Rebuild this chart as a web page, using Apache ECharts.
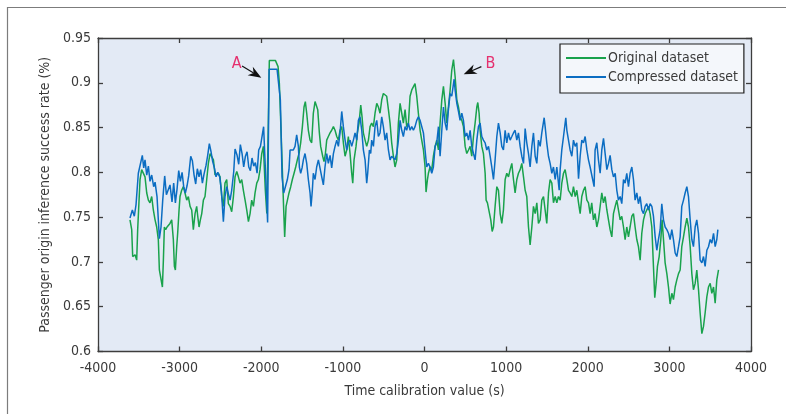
<!DOCTYPE html>
<html>
<head>
<meta charset="utf-8">
<script src="https://cdn.jsdelivr.net/npm/echarts@6/dist/echarts.min.js"></script>
<style>
  html, body { margin: 0; padding: 0; background: #ffffff; }
  #chart { width: 786px; height: 414px; }
</style>
</head>
<body>
<div id="chart"></div>
<script>
// Inference success rate against time calibration value, two datasets.
const xTicks = { min: -4000, max: 4000, step: 1000 };
const yTicks = { min: 0.6, max: 0.95, step: 0.05 };

const originalTime = [
  -3608, -3587, -3575, -3546, -3526, -3514, -3497, -3485, -3465, -3444,
  -3424, -3403, -3383, -3363, -3342, -3322, -3301, -3281, -3261, -3248,
  -3228, -3211, -3199, -3187, -3171, -3154, -3138, -3118, -3097, -3077,
  -3064, -3052, -3036, -3024, -3007, -2995, -2975, -2954, -2934, -2913,
  -2893, -2872, -2852, -2832, -2811, -2791, -2778, -2762, -2746, -2729,
  -2709, -2689, -2668, -2648, -2627, -2607, -2586, -2566, -2546, -2525,
  -2505, -2484, -2464, -2444, -2423, -2403, -2382, -2362, -2341, -2321,
  -2300, -2280, -2260, -2239, -2219, -2198, -2178, -2157, -2137, -2117,
  -2096, -2076, -2055, -2035, -2015, -1994, -1974, -1950, -1932, -1901,
  -1827, -1794, -1778, -1755, -1725, -1713, -1696, -1660, -1639, -1619,
  -1598, -1578, -1558, -1537, -1517, -1496, -1476, -1460, -1443, -1423,
  -1402, -1382, -1362, -1341, -1321, -1308, -1288, -1272, -1247, -1231,
  -1214, -1198, -1178, -1157, -1137, -1116, -1096, -1075, -1055, -1035,
  -1014, -994, -973, -953, -933, -912, -892, -879, -863, -839,
  -822, -802, -781, -765, -749, -728, -708, -687, -667, -647,
  -626, -606, -585, -565, -545, -524, -504, -483, -463, -442,
  -422, -402, -381, -361, -340, -320, -299, -279, -259, -238,
  -218, -197, -177, -156, -136, -116, -95, -75, -54, -34,
  -13, 7, 19, 36, 48, 68, 89, 109, 130, 150,
  171, 191, 212, 232, 253, 273, 293, 314, 334, 355,
  375, 396, 416, 436, 457, 477, 498, 518, 539, 559,
  579, 600, 620, 641, 653, 669, 681, 702, 722, 743,
  755, 771, 792, 812, 829, 845, 865, 886, 906, 927,
  947, 967, 988, 1008, 1029, 1049, 1070, 1090, 1110, 1131,
  1151, 1172, 1192, 1213, 1233, 1253, 1274, 1294, 1315, 1335,
  1356, 1376, 1396, 1417, 1437, 1458, 1478, 1498, 1519, 1539,
  1560, 1580, 1601, 1621, 1641, 1662, 1682, 1703, 1723, 1744,
  1764, 1784, 1805, 1825, 1846, 1866, 1887, 1907, 1927, 1948,
  1968, 1989, 2009, 2029, 2049, 2070, 2090, 2111, 2131, 2152,
  2172, 2193, 2213, 2234, 2254, 2274, 2295, 2315, 2336, 2356,
  2376, 2397, 2417, 2438, 2458, 2478, 2499, 2519, 2540, 2560,
  2580, 2601, 2621, 2642, 2662, 2683, 2703, 2723, 2744, 2764,
  2785, 2805, 2821, 2838, 2854, 2875, 2895, 2911, 2928, 2948,
  2969, 2989, 3009, 3030, 3050, 3071, 3091, 3112, 3132, 3152,
  3173, 3193, 3214, 3234, 3255, 3275, 3295, 3316, 3336, 3357,
  3377, 3398, 3418, 3438, 3459, 3479, 3500, 3520, 3541, 3561,
  3581, 3602
];
const originalRate = [
  0.747, 0.736, 0.706, 0.708, 0.702, 0.736, 0.769, 0.792, 0.803, 0.801,
  0.795, 0.777, 0.769, 0.766, 0.773, 0.758, 0.747, 0.739, 0.725, 0.691,
  0.691, 0.672, 0.702, 0.739, 0.736, 0.739, 0.739, 0.743, 0.747, 0.725,
  0.695, 0.691, 0.717, 0.732, 0.758, 0.773, 0.780, 0.784, 0.777, 0.769,
  0.773, 0.762, 0.758, 0.736, 0.754, 0.762, 0.751, 0.739, 0.747, 0.754,
  0.769, 0.773, 0.792, 0.810, 0.821, 0.823, 0.814, 0.797, 0.795, 0.799,
  0.795, 0.773, 0.762, 0.788, 0.792, 0.765, 0.762, 0.756, 0.773, 0.795,
  0.801, 0.795, 0.788, 0.792, 0.780, 0.769, 0.758, 0.745, 0.754, 0.769,
  0.762, 0.777, 0.788, 0.792, 0.803, 0.821, 0.829, 0.780, 0.754, 0.925,
  0.925, 0.918, 0.899, 0.840, 0.758, 0.728, 0.762, 0.777, 0.784, 0.792,
  0.799, 0.806, 0.814, 0.821, 0.833, 0.851, 0.873, 0.879, 0.866, 0.847,
  0.836, 0.833, 0.866, 0.879, 0.877, 0.870, 0.844, 0.829, 0.818, 0.812,
  0.821, 0.836, 0.840, 0.844, 0.847, 0.851, 0.847, 0.840, 0.836, 0.847,
  0.851, 0.833, 0.818, 0.825, 0.840, 0.821, 0.799, 0.788, 0.814, 0.829,
  0.844, 0.855, 0.875, 0.862, 0.844, 0.836, 0.829, 0.836, 0.851, 0.855,
  0.851, 0.866, 0.877, 0.873, 0.866, 0.881, 0.888, 0.890, 0.885, 0.870,
  0.855, 0.833, 0.818, 0.806, 0.814, 0.855, 0.877, 0.866, 0.855, 0.870,
  0.851, 0.855, 0.885, 0.892, 0.894, 0.899, 0.885, 0.866, 0.847, 0.836,
  0.825, 0.806, 0.778, 0.792, 0.799, 0.806, 0.803, 0.818, 0.829, 0.836,
  0.825, 0.855, 0.881, 0.896, 0.877, 0.855, 0.873, 0.892, 0.914, 0.926,
  0.907, 0.881, 0.873, 0.862, 0.858, 0.851, 0.829, 0.821, 0.825, 0.829,
  0.818, 0.840, 0.855, 0.873, 0.878, 0.866, 0.847, 0.829, 0.821, 0.799,
  0.769, 0.766, 0.766, 0.747, 0.734, 0.739, 0.762, 0.784, 0.780, 0.754,
  0.743, 0.758, 0.792, 0.799, 0.795, 0.803, 0.810, 0.792, 0.777, 0.792,
  0.799, 0.803, 0.810, 0.795, 0.780, 0.773, 0.739, 0.719, 0.739, 0.762,
  0.754, 0.766, 0.743, 0.747, 0.769, 0.773, 0.758, 0.743, 0.777, 0.792,
  0.788, 0.766, 0.773, 0.766, 0.773, 0.769, 0.788, 0.799, 0.803, 0.792,
  0.780, 0.777, 0.773, 0.784, 0.773, 0.780, 0.766, 0.754, 0.773, 0.780,
  0.784, 0.769, 0.766, 0.754, 0.766, 0.747, 0.754, 0.739, 0.747, 0.762,
  0.777, 0.766, 0.773, 0.758, 0.747, 0.736, 0.728, 0.754, 0.762, 0.769,
  0.758, 0.747, 0.751, 0.739, 0.725, 0.739, 0.728, 0.739, 0.751, 0.754,
  0.739, 0.725, 0.717, 0.702, 0.732, 0.747, 0.754, 0.758, 0.762, 0.754,
  0.739, 0.695, 0.660, 0.676, 0.695, 0.706, 0.725, 0.747, 0.725, 0.699,
  0.687, 0.672, 0.653, 0.665, 0.658, 0.672, 0.680, 0.687, 0.691, 0.717,
  0.728, 0.739, 0.749, 0.739, 0.717, 0.687, 0.669, 0.676, 0.691, 0.669,
  0.643, 0.620, 0.628, 0.643, 0.661, 0.672, 0.676, 0.665, 0.672, 0.654,
  0.680, 0.691
];

const compressedTime = [
  -3608, -3579, -3555, -3534, -3506, -3485, -3457, -3440, -3424, -3403,
  -3383, -3363, -3342, -3318, -3301, -3277, -3248, -3228, -3207, -3183,
  -3162, -3138, -3118, -3093, -3073, -3052, -3032, -3011, -2991, -2970,
  -2950, -2930, -2909, -2889, -2864, -2844, -2823, -2803, -2783, -2762,
  -2742, -2721, -2701, -2676, -2656, -2636, -2615, -2595, -2574, -2554,
  -2533, -2509, -2488, -2464, -2444, -2423, -2403, -2382, -2362, -2337,
  -2321, -2296, -2276, -2256, -2235, -2215, -2194, -2174, -2153, -2133,
  -2113, -2092, -2072, -2051, -2031, -2010, -1994, -1971, -1922, -1904,
  -1806, -1766, -1745, -1725, -1705, -1680, -1660, -1647, -1627, -1607,
  -1586, -1566, -1545, -1533, -1517, -1500, -1484, -1464, -1443, -1423,
  -1402, -1390, -1374, -1362, -1341, -1321, -1300, -1280, -1259, -1239,
  -1219, -1198, -1178, -1157, -1137, -1116, -1096, -1075, -1055, -1035,
  -1014, -994, -973, -953, -933, -912, -892, -871, -851, -830,
  -810, -790, -769, -749, -728, -708, -696, -675, -659, -647,
  -626, -606, -585, -565, -545, -524, -504, -483, -463, -442,
  -422, -402, -381, -361, -340, -320, -299, -279, -259, -238,
  -218, -197, -177, -156, -136, -116, -95, -75, -54, -34,
  -13, 7, 27, 48, 68, 89, 109, 130, 150, 171,
  191, 212, 232, 253, 273, 293, 314, 334, 363, 375,
  396, 416, 436, 457, 477, 498, 518, 539, 559, 579,
  600, 620, 641, 661, 681, 702, 722, 743, 763, 784,
  804, 824, 845, 865, 886, 906, 927, 947, 967, 988,
  1008, 1029, 1049, 1070, 1090, 1110, 1131, 1151, 1172, 1192,
  1213, 1233, 1253, 1274, 1294, 1315, 1335, 1356, 1376, 1396,
  1417, 1437, 1466, 1478, 1498, 1519, 1539, 1560, 1580, 1601,
  1621, 1650, 1662, 1682, 1703, 1731, 1744, 1764, 1784, 1805,
  1825, 1846, 1866, 1887, 1907, 1927, 1948, 1968, 1989, 2009,
  2029, 2049, 2078, 2090, 2111, 2131, 2152, 2172, 2193, 2213,
  2234, 2254, 2274, 2295, 2315, 2336, 2356, 2376, 2397, 2417,
  2438, 2458, 2478, 2499, 2519, 2540, 2560, 2580, 2601, 2621,
  2642, 2662, 2683, 2703, 2723, 2744, 2764, 2785, 2805, 2826,
  2846, 2866, 2887, 2907, 2928, 2948, 2969, 2989, 3009, 3030,
  3050, 3071, 3091, 3112, 3132, 3152, 3173, 3193, 3214, 3234,
  3255, 3275, 3295, 3316, 3336, 3357, 3377, 3398, 3418, 3438,
  3459, 3479, 3500, 3520, 3541, 3561, 3581, 3594
];
const compressedRate = [
  0.749, 0.758, 0.751, 0.764, 0.799, 0.801, 0.819, 0.805, 0.814, 0.797,
  0.807, 0.790, 0.797, 0.784, 0.789, 0.773, 0.726, 0.739, 0.769, 0.796,
  0.775, 0.773, 0.786, 0.767, 0.788, 0.766, 0.781, 0.802, 0.790, 0.800,
  0.784, 0.777, 0.785, 0.796, 0.818, 0.813, 0.797, 0.787, 0.804, 0.795,
  0.803, 0.788, 0.798, 0.808, 0.819, 0.832, 0.823, 0.812, 0.805, 0.795,
  0.800, 0.795, 0.779, 0.745, 0.773, 0.784, 0.776, 0.769, 0.780, 0.801,
  0.826, 0.819, 0.809, 0.831, 0.821, 0.806, 0.818, 0.823, 0.806, 0.802,
  0.816, 0.807, 0.811, 0.799, 0.825, 0.829, 0.838, 0.851, 0.744, 0.915,
  0.915, 0.881, 0.795, 0.777, 0.775, 0.792, 0.803, 0.825, 0.827, 0.825,
  0.829, 0.842, 0.829, 0.806, 0.799, 0.805, 0.814, 0.821, 0.810, 0.792,
  0.777, 0.762, 0.780, 0.799, 0.792, 0.806, 0.814, 0.812, 0.795, 0.786,
  0.806, 0.821, 0.810, 0.819, 0.805, 0.821, 0.829, 0.836, 0.829, 0.844,
  0.868, 0.851, 0.836, 0.825, 0.833, 0.836, 0.829, 0.836, 0.844, 0.836,
  0.858, 0.862, 0.847, 0.825, 0.814, 0.788, 0.799, 0.825, 0.821, 0.836,
  0.829, 0.851, 0.858, 0.840, 0.844, 0.862, 0.851, 0.836, 0.844, 0.825,
  0.814, 0.818, 0.819, 0.814, 0.821, 0.836, 0.858, 0.847, 0.840, 0.851,
  0.847, 0.855, 0.847, 0.851, 0.847, 0.851, 0.858, 0.862, 0.858, 0.860,
  0.844, 0.825, 0.806, 0.810, 0.806, 0.799, 0.806, 0.829, 0.833, 0.851,
  0.818, 0.847, 0.873, 0.855, 0.847, 0.870, 0.888, 0.885, 0.904, 0.892,
  0.877, 0.868, 0.858, 0.866, 0.858, 0.840, 0.844, 0.836, 0.847, 0.829,
  0.821, 0.814, 0.836, 0.851, 0.855, 0.840, 0.836, 0.833, 0.825, 0.829,
  0.818, 0.806, 0.792, 0.814, 0.840, 0.855, 0.844, 0.829, 0.825, 0.847,
  0.833, 0.844, 0.836, 0.840, 0.844, 0.847, 0.836, 0.844, 0.829, 0.818,
  0.810, 0.849, 0.833, 0.821, 0.806, 0.829, 0.844, 0.818, 0.810, 0.836,
  0.829, 0.844, 0.861, 0.851, 0.833, 0.818, 0.810, 0.799, 0.806, 0.792,
  0.806, 0.780, 0.803, 0.825, 0.840, 0.861, 0.847, 0.836, 0.825, 0.818,
  0.836, 0.829, 0.833, 0.793, 0.818, 0.836, 0.833, 0.840, 0.825, 0.814,
  0.806, 0.806, 0.784, 0.825, 0.833, 0.814, 0.799, 0.825, 0.838, 0.821,
  0.803, 0.810, 0.819, 0.803, 0.795, 0.799, 0.780, 0.769, 0.773, 0.765,
  0.792, 0.788, 0.799, 0.784, 0.799, 0.806, 0.792, 0.769, 0.777, 0.765,
  0.773, 0.758, 0.754, 0.762, 0.765, 0.758, 0.765, 0.762, 0.751, 0.728,
  0.713, 0.725, 0.736, 0.765, 0.747, 0.739, 0.736, 0.732, 0.725, 0.736,
  0.725, 0.710, 0.706, 0.717, 0.728, 0.762, 0.769, 0.777, 0.784, 0.773,
  0.747, 0.725, 0.717, 0.739, 0.747, 0.732, 0.702, 0.699, 0.706, 0.695,
  0.713, 0.717, 0.725, 0.721, 0.732, 0.717, 0.725, 0.736
];

const seriesNames = ['Original dataset', 'Compressed dataset'];
const seriesColors = ['#19a24c', '#0b6dc2'];

// Callouts: label text, label anchor and arrow start/tip in data units.
const callouts = [
  { text: 'A', label: [-2300, 0.921], from: [-2235, 0.9187], to: [-1999, 0.9057] },
  { text: 'B', label: [808, 0.921], from: [697, 0.918], to: [480, 0.9095] }
];

function pairs(xs, ys) {
  return xs.map((x, i) => [x, ys[i]]);
}

const FONT = "'Liberation Sans Narrow', 'DejaVu Sans Condensed', 'Lato', sans-serif";
const INK = '#3a3a3a';
const AXIS = '#3d3d3d';

const chart = echarts.init(document.getElementById('chart'), null, { renderer: 'canvas' });

const axisLineStyle = { lineStyle: { color: AXIS, width: 1.3 } };
const tickStyle = { show: true, inside: true, length: 5, lineStyle: { color: AXIS, width: 1.3 } };

chart.setOption({
  animation: false,
  backgroundColor: '#ffffff',
  textStyle: { fontFamily: FONT },
  grid: {
    left: 98, top: 38, width: 653, height: 313.5,
    show: true, backgroundColor: '#e3eaf5', borderWidth: 0
  },
  legend: {
    orient: 'vertical',
    left: 560, top: 44,
    data: seriesNames,
    icon: 'rect',
    itemWidth: 40, itemHeight: 2,
    itemGap: 1,
    padding: [5, 6, 7, 6],
    backgroundColor: '#f4f7fb',
    borderColor: '#1e1e1e', borderWidth: 1.2, borderRadius: 0,
    textStyle: { fontFamily: FONT, fontSize: 14, color: INK, lineHeight: 18, padding: [0, 0, 0, -3] }
  },
  xAxis: [
    {
      type: 'value', position: 'bottom',
      min: xTicks.min, max: xTicks.max, interval: xTicks.step,
      axisLine: { show: true, onZero: false, ...axisLineStyle },
      axisTick: tickStyle,
      splitLine: { show: false },
      axisLabel: { fontFamily: FONT, fontSize: 14, color: INK, margin: 10, formatter: v => String(v) },
      name: 'Time calibration value (s)',
      nameLocation: 'middle', nameGap: 33,
      nameTextStyle: { fontFamily: FONT, fontSize: 14, color: INK }
    },
    {
      type: 'value', position: 'top',
      min: xTicks.min, max: xTicks.max, interval: xTicks.step,
      axisLine: { show: true, onZero: false, ...axisLineStyle },
      axisTick: tickStyle,
      splitLine: { show: false },
      axisLabel: { show: false }
    }
  ],
  yAxis: [
    {
      type: 'value', position: 'left',
      min: yTicks.min, max: yTicks.max, interval: yTicks.step,
      axisLine: { show: true, onZero: false, ...axisLineStyle },
      axisTick: tickStyle,
      splitLine: { show: false },
      axisLabel: {
        fontFamily: FONT, fontSize: 14, color: INK, margin: 7,
        formatter: v => String(+v.toFixed(2))
      },
      name: 'Passenger origin inference success rate (%)',
      nameLocation: 'middle', nameGap: 46,
      nameTextStyle: { fontFamily: FONT, fontSize: 14, color: INK }
    },
    {
      type: 'value', position: 'right',
      min: yTicks.min, max: yTicks.max, interval: yTicks.step,
      axisLine: { show: true, onZero: false, ...axisLineStyle },
      axisTick: tickStyle,
      splitLine: { show: false },
      axisLabel: { show: false }
    }
  ],
  series: [
    {
      name: seriesNames[0], type: 'line',
      xAxisIndex: 0, yAxisIndex: 0,
      data: pairs(originalTime, originalRate),
      showSymbol: false, symbol: 'none',
      lineStyle: { color: seriesColors[0], width: 1.5 },
      itemStyle: { color: seriesColors[0] },
      z: 2
    },
    {
      name: seriesNames[1], type: 'line',
      xAxisIndex: 0, yAxisIndex: 0,
      data: pairs(compressedTime, compressedRate),
      showSymbol: false, symbol: 'none',
      lineStyle: { color: seriesColors[1], width: 1.5 },
      itemStyle: { color: seriesColors[1] },
      z: 3
    }
  ]
});

// Page frame, callout letters and arrows.
const toPx = p => chart.convertToPixel({ xAxisIndex: 0, yAxisIndex: 0 }, p);
const graphics = [
  {
    type: 'polyline', silent: true,
    shape: { points: [[7.5, 414], [7.5, 7.5], [786, 7.5]] },
    style: { stroke: '#7c7c7c', lineWidth: 1.2, fill: null }
  }
];
callouts.forEach(c => {
  const lp = toPx(c.label);
  const a = toPx(c.from);
  const b = toPx(c.to);
  const dx = b[0] - a[0], dy = b[1] - a[1];
  const len = Math.hypot(dx, dy);
  const ux = dx / len, uy = dy / len;
  const nx = -uy, ny = ux;
  const headLen = 13, halfW = 5, notch = 4;
  const base = [b[0] - ux * headLen, b[1] - uy * headLen];
  const back = [b[0] - ux * (headLen - notch), b[1] - uy * (headLen - notch)];
  graphics.push({
    type: 'text', silent: true, z: 10,
    x: lp[0], y: lp[1],
    style: { text: c.text, fill: '#e5306e', font: '16px ' + FONT, align: 'center', verticalAlign: 'middle' }
  });
  graphics.push({
    type: 'line', silent: true, z: 10,
    shape: { x1: a[0], y1: a[1], x2: back[0], y2: back[1] },
    style: { stroke: '#111111', lineWidth: 1.2 }
  });
  graphics.push({
    type: 'polygon', silent: true, z: 10,
    shape: {
      points: [
        b,
        [base[0] + nx * halfW, base[1] + ny * halfW],
        back,
        [base[0] - nx * halfW, base[1] - ny * halfW]
      ]
    },
    style: { fill: '#111111' }
  });
});
chart.setOption({ graphic: graphics });
</script>
</body>
</html>
